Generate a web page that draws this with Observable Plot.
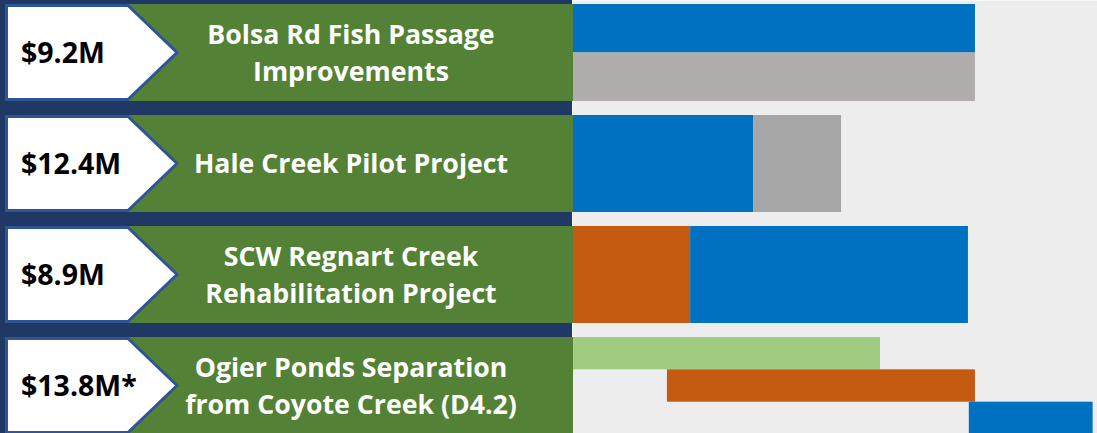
<!DOCTYPE html>
<html>
<head>
<meta charset="utf-8">
<script src="https://cdn.jsdelivr.net/npm/d3@7"></script>
<script src="https://cdn.jsdelivr.net/npm/@observablehq/plot@0.6"></script>
<style>
  html, body { margin: 0; padding: 0; background: #ffffff; }
  svg { display: block; }
</style>
</head>
<body>
<div id="chart"></div>
<script>
// ---- data ----
const projectNames = [
  ["Bolsa Rd Fish Passage", "Improvements"],
  ["Hale Creek Pilot Project"],
  ["SCW Regnart Creek", "Rehabilitation Project"],
  ["Ogier Ponds Separation", "from Coyote Creek (D4.2)"]
];
const projectCosts = ["$9.2M", "$12.4M", "$8.9M", "$13.8M*"];
const projectLanes = [2, 1, 1, 3];

const phases = ["Planning", "Design", "Construction", "Plant Establishment", "Monitoring"];
const phaseColors = ["#A1CB80", "#C55A11", "#0070C0", "#B0ADAC", "#A6A6A6"];

// tasks (timeline in years)
const taskProject = [0, 0, 1, 1, 2, 2, 3, 3, 3];
const taskLane    = [0, 1, 0, 0, 0, 0, 0, 1, 2];
const taskPhase   = ["Construction", "Plant Establishment", "Construction", "Monitoring",
                     "Design", "Construction", "Planning", "Design", "Construction"];
const taskStart   = [2020, 2020, 2020, 2024.14, 2020, 2022.7, 2020, 2022.17, 2029.07];
const taskEnd     = [2029.21, 2029.21, 2024.14, 2026.15, 2022.7, 2029.05, 2027.04, 2029.21, 2031.9];

const timeDomain = [2020, 2032];

// ---- layout ----
const W = 1097, H = 433;
const rowPx = 111;          // pixel pitch of one project row
const pad = 4 / rowPx;      // gap above each row band (row units)
const band = 97 / rowPx;    // band height (row units)

const tasks = taskProject.map((p, i) => ({
  project: p, lane: taskLane[i], phase: taskPhase[i],
  start: taskStart[i], end: taskEnd[i], lanes: projectLanes[p]
}));

const plot = Plot.plot({
  width: W, height: H,
  marginLeft: 572, marginRight: 0, marginTop: 0, marginBottom: 0,
  style: { background: "transparent" },
  x: { domain: timeDomain, axis: null },
  y: { domain: [0, H / rowPx], range: [0, H], axis: null },
  color: { domain: phases, range: phaseColors },
  marks: [
    Plot.frame({ fill: "#EDEDED", stroke: null }),
    Plot.rect(tasks, {
      x1: "start", x2: "end",
      y1: d => d.project + pad + band * d.lane / d.lanes,
      y2: d => d.project + pad + band * (d.lane + 1) / d.lanes,
      fill: "phase"
    })
  ]
});

// ---- left label panel, positioned with the plot's y scale ----
const y = plot.scale("y");
const svg = d3.select(plot);
const g = svg.append("g").attr("text-anchor", "start");
g.append("rect").attr("x", 0).attr("y", 0).attr("width", 572).attr("height", H).attr("fill", "#1F3864");

const FONT = "'Open Sans', Lato, sans-serif";
projectNames.forEach((lines, k) => {
  const top = y.apply(k + pad), bottom = y.apply(k + pad + band), mid = (top + bottom) / 2;
  g.append("rect").attr("x", 120).attr("y", top).attr("width", 453).attr("height", bottom - top).attr("fill", "#538135");
  g.append("path")
    .attr("d", `M6.5,${top + 1.5}L128,${top + 1.5}L177,${mid}L128,${bottom - 1.5}L6.5,${bottom - 1.5}Z`)
    .attr("fill", "#ffffff").attr("stroke", "#2F5597").attr("stroke-width", 3).attr("stroke-linejoin", "miter");
  g.append("text")
    .attr("x", 21).attr("y", mid + 10)
    .attr("text-anchor", "start")
    .attr("font-family", FONT).attr("font-weight", 700).attr("font-size", 28.5)
    .attr("fill", "#000000").text(projectCosts[k]);
  const n = lines.length;
  lines.forEach((line, j) => {
    const capMid = n === 1 ? mid : mid + 0.5 + (j - (n - 1) / 2) * 37.5;
    g.append("text")
      .attr("x", 351).attr("y", capMid + 9.5)
      .attr("text-anchor", "middle")
      .attr("font-family", FONT).attr("font-weight", 700).attr("font-size", 26.7)
      .attr("fill", "#ffffff").text(line);
  });
});

document.getElementById("chart").appendChild(plot);
</script>
</body>
</html>
